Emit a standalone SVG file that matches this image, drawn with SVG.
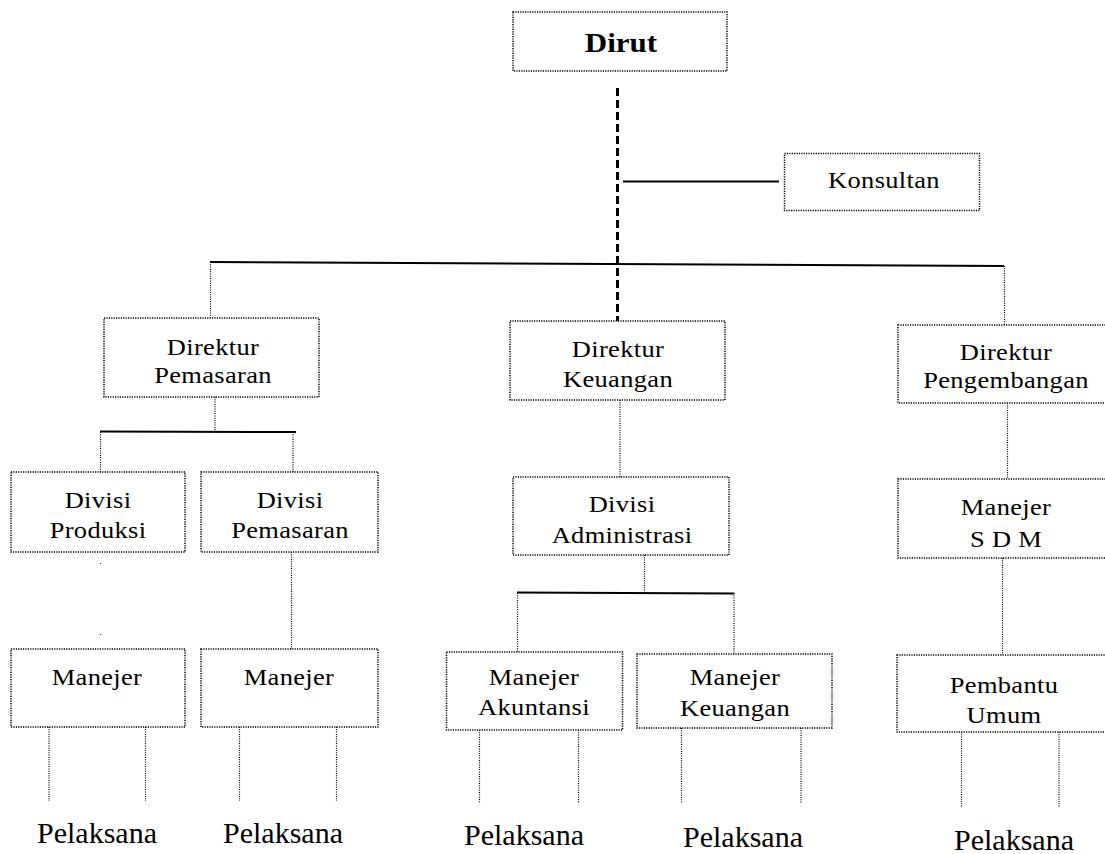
<svg xmlns="http://www.w3.org/2000/svg" width="1105" height="854" viewBox="0 0 1105 854">
<style>
.box{fill:#fff;stroke:#000;stroke-width:1.5;stroke-dasharray:1.2 1.2}
.t{font-family:"Liberation Serif","Times New Roman",serif;font-size:23px;letter-spacing:0.3px;text-anchor:middle;fill:#000}
.big{font-family:"Liberation Serif","Times New Roman",serif;font-size:27px;font-weight:bold;text-anchor:middle;fill:#000}
.p{font-family:"Liberation Serif","Times New Roman",serif;font-size:30px;text-anchor:middle;fill:#000}
.dot{stroke:#000;stroke-width:1.2;stroke-dasharray:1 1.3;fill:none}
.solid{stroke:#000;stroke-width:2;fill:none}
.dash{stroke:#000;stroke-width:3;stroke-dasharray:8 4;fill:none}
</style>
<rect width="1105" height="854" fill="#fff"/>
<g id="connectors">
<line class="dash" x1="617.5" y1="88" x2="617.5" y2="321"/>
<line class="solid" x1="623" y1="181.5" x2="779" y2="181.5"/>
<line class="solid" x1="210" y1="262" x2="1004" y2="266"/>
<line class="dot" x1="210.5" y1="262" x2="210.5" y2="318"/>
<line class="dot" x1="1004.5" y1="266" x2="1004.5" y2="325"/>
<line class="dot" x1="215" y1="397" x2="215" y2="432"/>
<line class="solid" x1="100" y1="431.5" x2="296" y2="432"/>
<line class="dot" x1="100.5" y1="432" x2="100.5" y2="472"/>
<line class="dot" x1="293" y1="432" x2="293" y2="472"/>
<line x1="100.5" y1="563" x2="100.5" y2="636" stroke="#555" stroke-width="1.2" stroke-dasharray="1 70"/>
<line class="dot" x1="291.5" y1="552" x2="291.5" y2="649"/>
<line class="dot" x1="620" y1="400" x2="620" y2="477"/>
<line class="dot" x1="644.5" y1="555" x2="644.5" y2="593"/>
<line class="solid" x1="517" y1="592.5" x2="734" y2="593.5"/>
<line class="dot" x1="517.5" y1="593" x2="517.5" y2="652"/>
<line class="dot" x1="734" y1="593" x2="734" y2="654"/>
<line class="dot" x1="1007.5" y1="403" x2="1007.5" y2="479"/>
<line class="dot" x1="1002.5" y1="558" x2="1002.5" y2="655"/>
<line class="dot" x1="49" y1="727" x2="49" y2="801"/>
<line class="dot" x1="145.5" y1="727" x2="145.5" y2="801"/>
<line class="dot" x1="239.5" y1="727" x2="239.5" y2="801"/>
<line class="dot" x1="336.5" y1="727" x2="336.5" y2="801"/>
<line class="dot" x1="479.5" y1="730" x2="479.5" y2="803"/>
<line class="dot" x1="578.5" y1="730" x2="578.5" y2="803"/>
<line class="dot" x1="681.5" y1="728" x2="681.5" y2="804"/>
<line class="dot" x1="801" y1="728" x2="801" y2="804"/>
<line class="dot" x1="961.5" y1="732" x2="961.5" y2="808"/>
<line class="dot" x1="1059" y1="732" x2="1059" y2="808"/>
</g>
<g id="dirut"><rect class="box" x="513" y="12" width="214" height="59"/><text class="big" transform="translate(621,52) scale(1.15,1)">Dirut</text></g>
<g id="konsultan"><rect class="box" x="784.5" y="153.5" width="195" height="57"/><text class="t" transform="translate(884,188) scale(1.15,1)">Konsultan</text></g>
<g id="dir-pemasaran"><rect class="box" x="104" y="318" width="215" height="79"/><text class="t" transform="translate(213,355) scale(1.15,1)">Direktur</text><text class="t" transform="translate(213,383) scale(1.15,1)">Pemasaran</text></g>
<g id="dir-keuangan"><rect class="box" x="510" y="321" width="215" height="79"/><text class="t" transform="translate(618,357) scale(1.15,1)">Direktur</text><text class="t" transform="translate(618,387) scale(1.15,1)">Keuangan</text></g>
<g id="dir-pengembangan"><rect class="box" x="898" y="325" width="214" height="78"/><text class="t" transform="translate(1006,360) scale(1.15,1)">Direktur</text><text class="t" transform="translate(1006,388) scale(1.15,1)">Pengembangan</text></g>
<g id="div-produksi"><rect class="box" x="11" y="472" width="174" height="80"/><text class="t" transform="translate(98,508) scale(1.15,1)">Divisi</text><text class="t" transform="translate(98,538) scale(1.15,1)">Produksi</text></g>
<g id="div-pemasaran"><rect class="box" x="201" y="472" width="177" height="80"/><text class="t" transform="translate(290,508) scale(1.15,1)">Divisi</text><text class="t" transform="translate(290,538) scale(1.15,1)">Pemasaran</text></g>
<g id="div-administrasi"><rect class="box" x="513" y="477" width="216" height="78"/><text class="t" transform="translate(622,512) scale(1.15,1)">Divisi</text><text class="t" transform="translate(622,543) scale(1.15,1)">Administrasi</text></g>
<g id="manejer-sdm"><rect class="box" x="898" y="479" width="214" height="79"/><text class="t" transform="translate(1006,515) scale(1.15,1)">Manejer</text><text class="t" transform="translate(1006,547) scale(1.15,1)">S D M</text></g>
<g id="manejer-1"><rect class="box" x="11" y="649" width="174" height="78"/><text class="t" transform="translate(97,685) scale(1.15,1)">Manejer</text></g>
<g id="manejer-2"><rect class="box" x="201" y="649" width="177" height="78"/><text class="t" transform="translate(289,685) scale(1.15,1)">Manejer</text></g>
<g id="manejer-akuntansi"><rect class="box" x="446.5" y="652" width="176" height="78"/><text class="t" transform="translate(534,685) scale(1.15,1)">Manejer</text><text class="t" transform="translate(534,715) scale(1.15,1)">Akuntansi</text></g>
<g id="manejer-keuangan"><rect class="box" x="637" y="654" width="195" height="74"/><text class="t" transform="translate(735,685) scale(1.15,1)">Manejer</text><text class="t" transform="translate(735,716) scale(1.15,1)">Keuangan</text></g>
<g id="pembantu-umum"><rect class="box" x="897" y="655" width="215" height="77"/><text class="t" transform="translate(1004,693) scale(1.15,1)">Pembantu</text><text class="t" transform="translate(1004,723) scale(1.15,1)">Umum</text></g>
<g id="pelaksana">
<text class="p" x="97" y="843">Pelaksana</text>
<text class="p" x="283" y="843">Pelaksana</text>
<text class="p" x="524" y="845">Pelaksana</text>
<text class="p" x="743" y="847">Pelaksana</text>
<text class="p" x="1014" y="850">Pelaksana</text>
</g>
</svg>
